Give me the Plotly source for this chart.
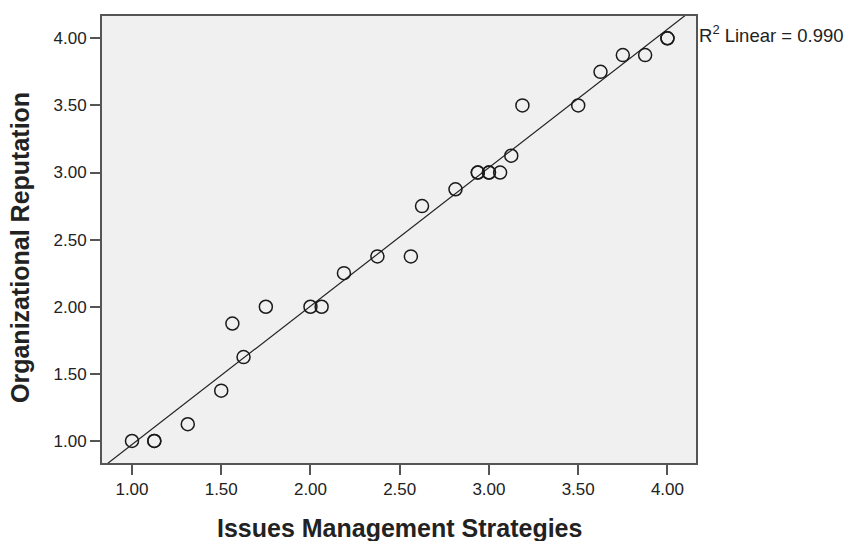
import numpy as np
import plotly.graph_objects as go

# Data (duplicates drawn as bold circles)
issues_mgmt = [1.00, 1.125, 1.125, 1.3125, 1.50, 1.5625, 1.625, 1.75, 2.00, 2.0625,
               2.1875, 2.375, 2.5625, 2.625, 2.8125, 2.9375, 2.9375, 3.00, 3.00,
               3.0625, 3.125, 3.1875, 3.50, 3.625, 3.75, 3.875, 4.00, 4.00]
org_reputation = [1.00, 1.00, 1.00, 1.125, 1.375, 1.875, 1.625, 2.00, 2.00, 2.00,
                  2.25, 2.375, 2.375, 2.75, 2.875, 3.00, 3.00, 3.00, 3.00,
                  3.00, 3.125, 3.50, 3.50, 3.75, 3.875, 3.875, 4.00, 4.00]
tick_vals = [1.0, 1.5, 2.0, 2.5, 3.0, 3.5, 4.0]
tick_text = ["1.00", "1.50", "2.00", "2.50", "3.00", "3.50", "4.00"]
x_title = "Issues Management Strategies"
y_title = "Organizational Reputation"
r2_label = "R<sup>2</sup> Linear = 0.990"

x_range = [0.832, 4.16]
y_range = [0.836, 4.166]

FONT = "Liberation Sans, Arial, sans-serif"

slope, intercept = np.polyfit(issues_mgmt, org_reputation, 1)
line_x = np.array(x_range)
line_y = intercept + slope * line_x

fig = go.Figure()
fig.add_trace(go.Scatter(
    x=line_x, y=line_y, mode="lines",
    line=dict(color="#222222", width=1.2),
    hoverinfo="skip", showlegend=False, cliponaxis=True,
))
fig.add_trace(go.Scatter(
    x=issues_mgmt, y=org_reputation, mode="markers",
    marker=dict(symbol="circle-open", size=13, color="#1a1a1a",
                line=dict(width=1.5, color="#1a1a1a")),
    showlegend=False,
))

axis_common = dict(
    tickmode="array", tickvals=tick_vals, ticktext=tick_text,
    showgrid=False, zeroline=False, automargin=False,
    showline=True, linecolor="#555555", linewidth=2, mirror=True,
    ticks="outside", ticklen=10, tickwidth=2, tickcolor="#555555",
    tickfont=dict(family=FONT, size=17, color="#222222"),
)

fig.update_xaxes(range=x_range, **axis_common)
fig.update_yaxes(range=y_range, **axis_common)

fig.add_annotation(
    x=0.5, xref="paper", xanchor="center",
    y=0, yref="paper", yanchor="middle", yshift=-65,
    text="<b>" + x_title + "</b>", showarrow=False,
    font=dict(family=FONT, size=25, color="#222222"),
)
fig.add_annotation(
    x=0, xref="paper", xanchor="center", xshift=-82,
    y=0.481, yref="paper", yanchor="middle",
    text="<b>" + y_title + "</b>", showarrow=False, textangle=-90,
    font=dict(family=FONT, size=25, color="#222222"),
)
fig.add_annotation(
    x=1.0, xref="paper", xanchor="left", xshift=1,
    y=4.0, yref="y", yanchor="middle", yshift=4,
    text=r2_label, showarrow=False,
    font=dict(family=FONT, size=18.5, color="#222222"),
)

fig.update_layout(
    width=847, height=541,
    margin=dict(l=102, r=151, t=16, b=78),
    plot_bgcolor="#F0F0F0", paper_bgcolor="white",
)

fig.write_html("out.html", config={"displayModeBar": False},
               post_script="document.body.style.margin='0';document.body.style.overflow='hidden';")
